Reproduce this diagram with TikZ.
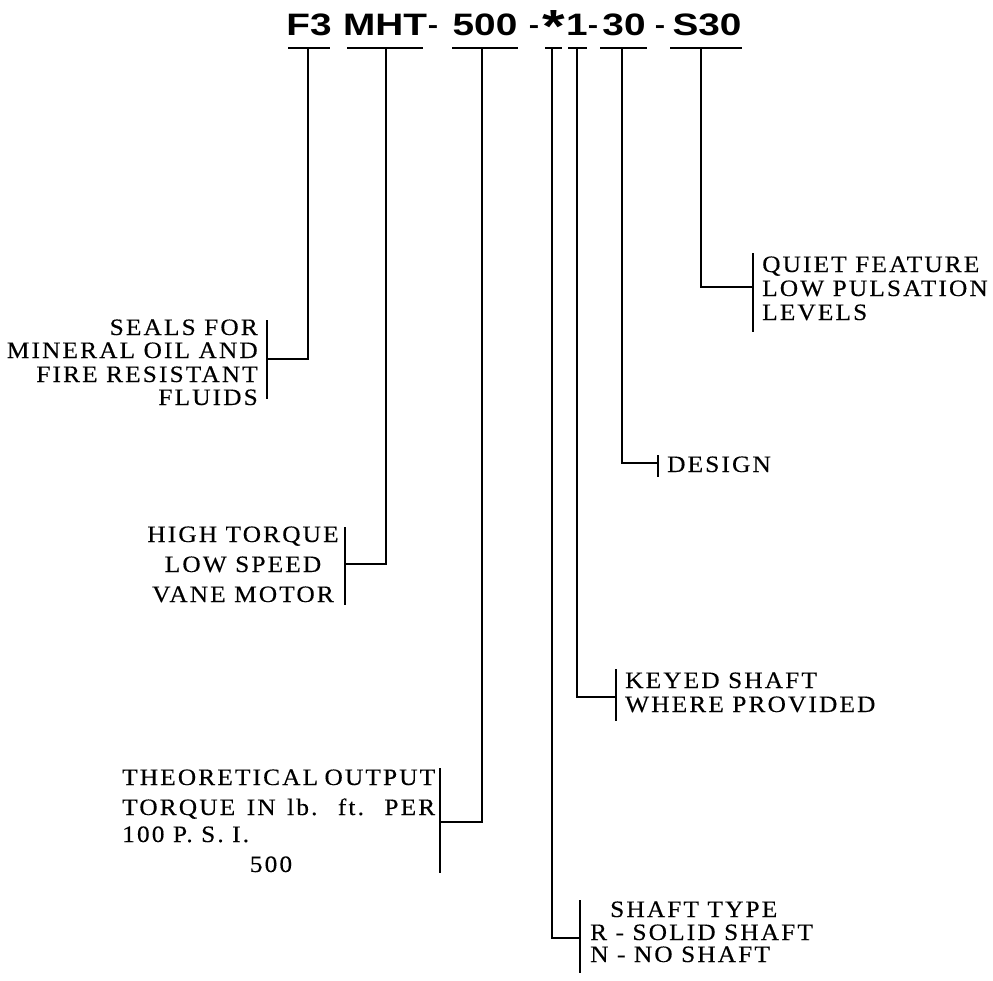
\documentclass[tikz,border=0pt]{standalone}
\usepackage{fontspec}
\usepackage{graphicx}
\setmainfont{Liberation Serif}
\newfontfamily\lblfont{Liberation Serif}[FakeStretch=1.08,LetterSpace=9,FakeBold=0.3]
\newfontfamily\ttlfont{Liberation Sans}[FakeStretch=1.25]
\begin{document}
\begin{tikzpicture}[x=1pt,y=-1pt,
  lbl/.style={font=\lblfont\fontsize{23.5}{24}\selectfont, inner sep=0pt},
  ttl/.style={font=\ttlfont\bfseries\fontsize{31}{31}\selectfont, inner sep=0pt, anchor=base},
  ln/.style={line width=1.1pt},
  brk/.style={line width=1.6pt}]
\useasboundingbox (0,0) rectangle (993,980);
% title
\node[ttl] (tF) at (309,35) {F3};
\node[ttl] (tM) at (385,35) {MHT};
\node[ttl] (h1) at (433,33) {\scalebox{0.8}{-}};
\node[ttl] (t5) at (485,35) {500};
\node[ttl] (h2) at (534,33) {\scalebox{0.8}{-}};
\node[ttl] (tA) at (554,35) {\raisebox{-7pt}{\scalebox{1.5}{*}}};
\node[ttl] (t1) at (577,35) {1};
\node[ttl] (h3) at (593,33) {\scalebox{0.8}{-}};
\node[ttl] (t3) at (624,35) {30};
\node[ttl] (h4) at (660,33) {\scalebox{0.8}{-}};
\node[ttl] (tS) at (707,35) {S30};
% underlines
\draw[ln] (288,48) -- (330,48);
\draw[ln] (347,48) -- (423,48);
\draw[ln] (452,48) -- (518,48);
\draw[ln] (545,48) -- (562,48);
\draw[ln] (568,48) -- (587,48);
\draw[ln] (600,48) -- (647,48);
\draw[ln] (670,48) -- (742,48);
\coordinate (sF) at (308,48);
\coordinate (sM) at (386,48);
\coordinate (s5) at (482,48);
\coordinate (sA) at (552,48);
\coordinate (s1) at (577,48);
\coordinate (s3) at (622,48);
\coordinate (sS) at (701,48);
% seals
\node[lbl, anchor=base east] (a1) at (258,335) {SEALS FOR};
\node[lbl, anchor=base east] (a2) at (258,358) {MINERAL OIL AND};
\node[lbl, anchor=base east] (a3) at (258,382) {FIRE RESISTANT};
\node[lbl, anchor=base east] (a4) at (258,405) {FLUIDS};
\draw[brk] (267,320) -- (267,399);
\coordinate (jF) at (267,359);
\draw[ln] (sF) |- (jF);
% high torque
\node[lbl, anchor=base] (b1) at (243,542) {HIGH TORQUE};
\node[lbl, anchor=base] (b2) at (243,572) {LOW SPEED};
\node[lbl, anchor=base] (b3) at (243,602) {VANE MOTOR};
\draw[brk] (345,527) -- (345,605);
\coordinate (jM) at (345,564);
\draw[ln] (sM) |- (jM);
% theoretical
\node[lbl, anchor=base west] (c1) at (122,785) {\makebox[313pt][s]{THEORETICAL OUTPUT}};
\node[lbl, anchor=base west] (c2) at (122,815) {\makebox[313pt][s]{TORQUE IN lb. ft. PER}};
\node[lbl, anchor=base west] (c3) at (122,842) {100 P. S. I.};
\node[lbl, anchor=base] (c4) at (271,872) {500};
\draw[brk] (440,768) -- (440,873);
\coordinate (j5) at (440,822);
\draw[ln] (s5) |- (j5);
% shaft type
\node[lbl, anchor=base west] (d1) at (610,917) {SHAFT TYPE};
\node[lbl, anchor=base west] (d2) at (590,940) {R - SOLID SHAFT};
\node[lbl, anchor=base west] (d3) at (590,962) {N - NO SHAFT};
\draw[brk] (580,900) -- (580,973);
\coordinate (jA) at (580,938);
\draw[ln] (sA) |- (jA);
% keyed
\node[lbl, anchor=base west] (e1) at (625,688) {KEYED SHAFT};
\node[lbl, anchor=base west] (e2) at (625,712) {WHERE PROVIDED};
\draw[brk] (616,669) -- (616,721);
\coordinate (j1) at (616,697);
\draw[ln] (s1) |- (j1);
% design
\node[lbl, anchor=base west] (f1) at (667,472) {DESIGN};
\draw[brk] (658,455) -- (658,477);
\coordinate (j3) at (658,463);
\draw[ln] (s3) |- (j3);
% quiet
\node[lbl, anchor=base west] (g1) at (762,272) {QUIET FEATURE};
\node[lbl, anchor=base west] (g2) at (762,296) {LOW PULSATION};
\node[lbl, anchor=base west] (g3) at (762,320) {LEVELS};
\draw[brk] (753,253) -- (753,332);
\coordinate (jS) at (753,287);
\draw[ln] (sS) |- (jS);
\end{tikzpicture}
\end{document}
